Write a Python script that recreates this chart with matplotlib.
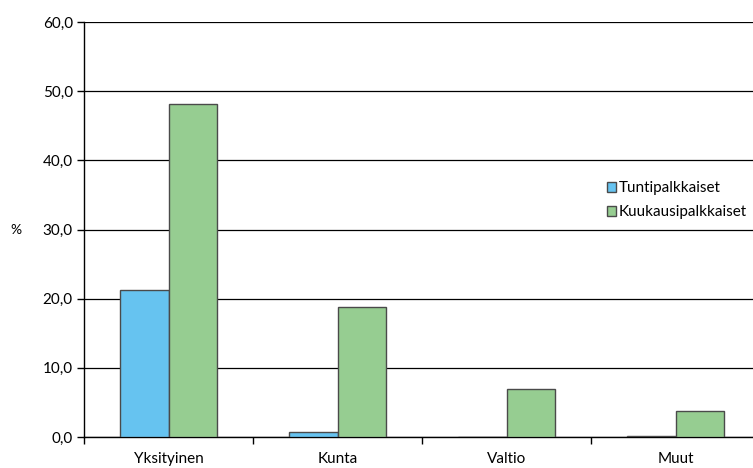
import numpy as np
import matplotlib.pyplot as plt

categories = ['Yksityinen', 'Kunta', 'Valtio', 'Muut']
tunti = [21.2, 0.7, 0.0, 0.1]
kuukausi = [48.2, 18.8, 7.0, 3.8]
series_names = ['Tuntipalkkaiset', 'Kuukausipalkkaiset']
yticks = [0, 10, 20, 30, 40, 50, 60]

plt.rcParams['font.family'] = ['Lato', 'DejaVu Sans']
fs = 11

fig = plt.figure(figsize=(7.53, 4.68), dpi=100)
# axis area runs slightly past the right edge of the figure
ax = fig.add_axes([84 / 753, (468 - 437) / 468, 676 / 753, 415 / 468])

x = np.arange(len(categories))
w = 0.287
ax.bar(x - w / 2, tunti, w, color='#66c3f0', edgecolor='#4a4a4a',
       linewidth=1, label=series_names[0], zorder=3)
ax.bar(x + w / 2, kuukausi, w, color='#96cd91', edgecolor='#4a4a4a',
       linewidth=1, label=series_names[1], zorder=3)

ax.set_xlim(-0.5, len(categories) - 0.5)
ax.set_ylim(0, 60)
ax.set_yticks(yticks)
ax.set_yticklabels([f'{v:.1f}'.replace('.', ',') for v in yticks], fontsize=fs)
ax.yaxis.grid(True, color='black', linewidth=0.9, zorder=0)

ax.set_xticks(np.arange(len(categories) + 1) - 0.5)
ax.set_xticklabels([])
ax.set_xticks(x, minor=True)
ax.set_xticklabels(categories, minor=True, fontsize=fs)
ax.tick_params(axis='x', which='minor', length=0, pad=11)
ax.tick_params(axis='x', which='major', length=5, width=1, direction='out')
ax.tick_params(axis='y', length=5, width=1, direction='out', pad=3)

for s in ['top', 'right']:
    ax.spines[s].set_visible(False)
ax.spines['left'].set_linewidth(1)
ax.spines['bottom'].set_linewidth(1)

ax.set_ylabel('%', rotation=0, fontsize=fs - 1, labelpad=19, va='center')

leg = ax.legend(loc='upper left', bbox_to_anchor=(0.762, 0.635), frameon=False,
                fontsize=fs, handlelength=0.6, handleheight=0.6,
                handletextpad=0.2, labelspacing=0.65, borderpad=0)

fig.savefig('out.png', dpi=100)
